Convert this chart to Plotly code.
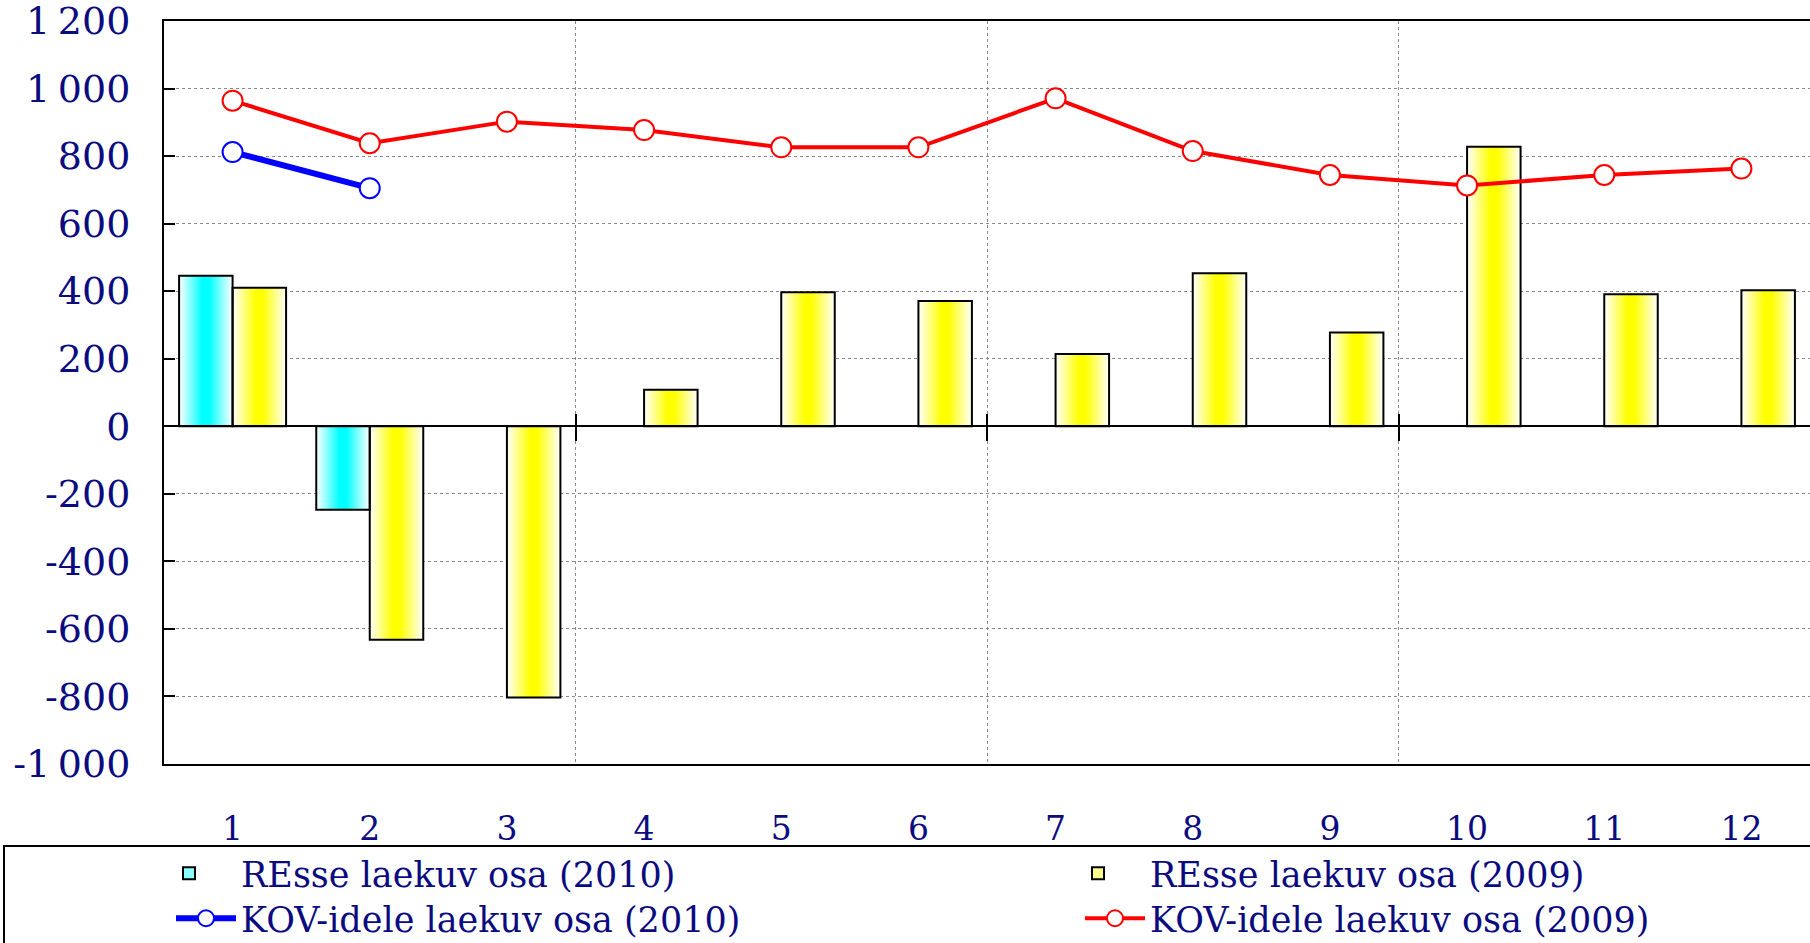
import plotly.graph_objects as go

# ---------------- data ----------------
months = list(range(1, 13))
month_labels = [str(m) for m in months]
resse_2010 = [446, -247]
resse_2009 = [410, -632, -803, 108, 397, 371, 214, 453, 278, 828, 391, 403]
kov_2010 = [812, 705]
kov_2009 = [964, 838, 902, 877, 826, 826, 971, 815, 744, 713, 744, 763]
y_ticks = list(range(-1000, 1201, 200))
y_tick_labels = [f"{v:,}".replace(",", "\u202f") for v in y_ticks]
sep_ticks = [3.5, 6.5, 9.5]
names = ["REsse laekuv osa (2010)", "REsse laekuv osa (2009)",
         "KOV-idele laekuv osa (2010)", "KOV-idele laekuv osa (2009)"]

# ---------------- style ----------------
W, H = 1810, 943
ML, MR, MT, MB = 164, 0, 21, 179
NAVY = "#0b0b80"
FONT = "DejaVu Serif"
BW = 0.39
N_LAYERS = 18


def mix(rgb, t):
    r, g, b = [int(round(255 * (1 - t) + c * t)) for c in rgb]
    return f"rgb({r},{g},{b})"


fig = go.Figure()

# gradient bar layers (white edges -> saturated centre)
series = [
    (months[:len(resse_2010)], resse_2010, (0, 255, 255), -BW),
    (months, resse_2009, (255, 255, 0), 0.0),
]
for xs, ys, rgb, off in series:
    centre = off + BW / 2
    for k in range(N_LAYERS):
        w = BW * (1 - k / N_LAYERS)
        t = min(1.0, (k + 0.5) / N_LAYERS * 1.15)
        fig.add_trace(go.Bar(x=xs, y=ys, width=w, offset=centre - w / 2,
                             marker=dict(color=mix(rgb, t), line=dict(width=0)),
                             showlegend=False, hoverinfo="skip"))

# outlines
for xs, ys, rgb, off in series:
    fig.add_trace(go.Bar(x=xs, y=ys, width=BW, offset=off, xaxis="x2",
                         marker=dict(color="rgba(0,0,0,0)", line=dict(color="black", width=2)),
                         showlegend=False, hoverinfo="skip"))

# legend entries for bars
fig.add_trace(go.Bar(x=[None], y=[None], name=names[0], legend="legend",
                     marker=dict(color="#8cffff", line=dict(color="black", width=2))))
fig.add_trace(go.Bar(x=[None], y=[None], name=names[1], legend="legend2",
                     marker=dict(color="#ffff8c", line=dict(color="black", width=2))))

# lines
fig.add_trace(go.Scatter(x=months[:len(kov_2010)], y=kov_2010, mode="lines+markers", name=names[2],
                         xaxis="x3", legend="legend3", line=dict(color="#0000ff", width=6),
                         marker=dict(symbol="circle", size=20, color="white",
                                     line=dict(color="#0000ff", width=2))))
fig.add_trace(go.Scatter(x=months, y=kov_2009, mode="lines+markers", name=names[3],
                         xaxis="x3", legend="legend4", line=dict(color="#ff0000", width=4),
                         marker=dict(symbol="circle", size=20, color="white",
                                     line=dict(color="#ff0000", width=2))))

ph = H - MT - MB
pw = W - ML - MR
zero_pos = (0 - y_ticks[0]) / (y_ticks[-1] - y_ticks[0])


def px_x(x):
    return (x - ML) / pw


def px_y(y):
    return (ph + MT - y) / ph


legend_common = dict(orientation="v", xanchor="left", yanchor="top", traceorder="normal",
                     bgcolor="rgba(0,0,0,0)", borderwidth=0, tracegroupgap=0,
                     font=dict(family=FONT, size=35, color=NAVY))
COL1, COL2 = 171, 1080
ROW1, ROW2 = 844, 889
BAR_IW, LINE_IW = 94, 60
SHIFT = BAR_IW - LINE_IW

fig.update_layout(
    width=W, height=H,
    margin=dict(l=ML, r=MR, t=MT, b=MB, autoexpand=False),
    paper_bgcolor="white", plot_bgcolor="white",
    barmode="overlay",
    font=dict(family=FONT, size=33, color=NAVY),
    xaxis=dict(range=[0.5, 12.5], tickmode="array", tickvals=months, ticktext=month_labels,
               showgrid=False, zeroline=False, showline=True, mirror=True,
               linecolor="black", linewidth=2, ticks="", ticklabelstandoff=34,
               automargin=False, ticklabeloverflow="allow",
               tickfont=dict(family=FONT, size=33, color=NAVY)),
    xaxis2=dict(range=[0.5, 12.5], overlaying="x", anchor="free", position=zero_pos,
                tickmode="array", tickvals=sep_ticks, showticklabels=False,
                ticks="outside", ticklen=14, tickwidth=2, tickcolor="black",
                showgrid=True, gridcolor="#8a8a8a", griddash="dot", gridwidth=1,
                showline=True, linecolor="black", linewidth=2, zeroline=False),
    xaxis3=dict(range=[0.5, 12.5], overlaying="x", anchor="free", position=zero_pos,
                tickmode="array", tickvals=sep_ticks, showticklabels=False,
                ticks="inside", ticklen=12, tickwidth=2, tickcolor="black",
                showgrid=False, showline=False, zeroline=False),
    yaxis=dict(range=[y_ticks[0], y_ticks[-1]], tickmode="array", tickvals=y_ticks,
               ticktext=y_tick_labels, showgrid=True, gridcolor="#8a8a8a", griddash="dot",
               gridwidth=1, zeroline=False, showline=True, linecolor="black", linewidth=2,
               ticks="inside", ticklen=11, tickwidth=2, tickcolor="black",
               ticklabelstandoff=24, automargin=False, ticklabeloverflow="allow",
               tickfont=dict(family=FONT, size=38, color=NAVY)),
    legend=dict(x=px_x(COL1 - SHIFT), y=px_y(ROW1), itemwidth=BAR_IW, **legend_common),
    legend2=dict(x=px_x(COL2 - SHIFT), y=px_y(ROW1), itemwidth=BAR_IW, **legend_common),
    legend3=dict(x=px_x(COL1), y=px_y(ROW2), itemwidth=LINE_IW, **legend_common),
    legend4=dict(x=px_x(COL2), y=px_y(ROW2), itemwidth=LINE_IW, **legend_common),
    shapes=[dict(type="rect", xref="paper", yref="paper",
                 x0=px_x(4), x1=px_x(W + 20),
                 y0=px_y(846), y1=px_y(H + 20),
                 line=dict(color="black", width=2), fillcolor="rgba(0,0,0,0)", layer="above")],
)

fig.write_html("out.html", config={"displayModeBar": False},
               post_script="document.body.style.margin='0px';")
